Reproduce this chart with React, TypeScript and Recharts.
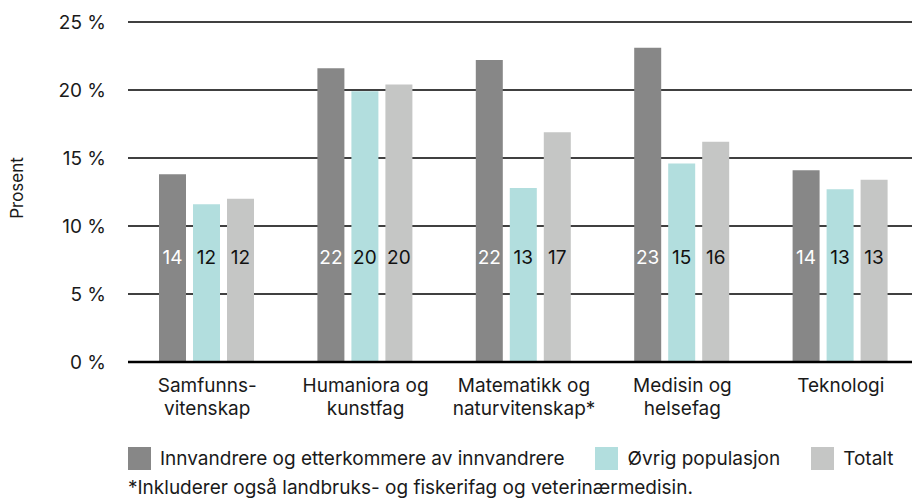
import React from 'react';
import { BarChart, Bar, XAxis, YAxis, CartesianGrid, LabelList } from 'recharts';

const categories = [
    ['Samfunns-', 'vitenskap'],
    ['Humaniora og', 'kunstfag'],
    ['Matematikk og', 'naturvitenskap*'],
    ['Medisin og', 'helsefag'],
    ['Teknologi'],
];
const innvandrere = [13.8, 21.6, 22.2, 23.1, 14.1];
const ovrig = [11.6, 19.9, 12.8, 14.6, 12.7];
const totalt = [12.0, 20.4, 16.9, 16.2, 13.4];
const yTicks = [0, 5, 10, 15, 20, 25];

const series = [
    { key: 'innvandrere', name: 'Innvandrere og etterkommere av innvandrere', color: '#878787', label: '#ffffff' },
    { key: 'ovrig', name: 'Øvrig populasjon', color: '#b2dede', label: '#111111' },
    { key: 'totalt', name: 'Totalt', color: '#c5c6c5', label: '#111111' },
];

const data = categories.map((c, i) => ({
    name: c.join(' '),
    innvandrere: innvandrere[i],
    ovrig: ovrig[i],
    totalt: totalt[i],
}));

const FONT = 'Inter, "Noto Sans", sans-serif';

const CategoryTick = ({ x, y, payload, index }: any) => {
    const lines = categories[index] || [payload.value];
    return (
        <text x={x} y={y} textAnchor="middle" fill="#1a1a1a" fontSize={19} fontFamily={FONT}>
            {lines.map((l, i) => (
                <tspan key={i} x={x} dy={i === 0 ? 30 : 23}>{l}</tspan>
            ))}
        </text>
    );
};

const makeLabel = (fill: string) => (props: any) => {
    const { x, y, width, height, value } = props;
    const bottom = y + height;
    return (
        <text
            x={x + width / 2}
            y={bottom - 105}
            textAnchor="middle"
            dominantBaseline="central"
            fill={fill}
            fontSize={19}
            fontFamily={FONT}
        >
            {Math.round(value)}
        </text>
    );
};

export default function App() {
    return (
        <div style={{ position: 'fixed', left: 0, top: 0, width: 912, height: 500, overflow: 'hidden', background: '#fff', fontFamily: FONT }}>
            <BarChart
                width={920}
                height={500}
                data={data}
                margin={{ top: 22, right: 0, bottom: 78, left: 0 }}
                barCategoryGap={31}
                barGap={7}
            >
                <CartesianGrid vertical={false} stroke="#000" strokeWidth={1.3} />
                <XAxis
                    dataKey="name"
                    height={60}
                    tickLine={false}
                    tickSize={0}
                    tickMargin={0}
                    axisLine={{ stroke: '#000', strokeWidth: 2.5 }}
                    tick={<CategoryTick />}
                    interval={0}
                />
                <YAxis
                    width={128}
                    domain={[0, 25]}
                    ticks={yTicks}
                    tickFormatter={(v: number) => `${v} %`}
                    axisLine={false}
                    tickLine={false}
                    tickMargin={16}
                    tick={{ fill: '#1a1a1a', fontSize: 19, fontFamily: FONT }}
                    label={{
                        content: () => (
                            <text x={17} y={188} transform="rotate(-90 17 188)" textAnchor="middle" dominantBaseline="central" fill="#1a1a1a" fontSize={17} fontFamily={FONT}>
                                Prosent
                            </text>
                        ),
                    }}
                />
                {series.map((s) => (
                    <Bar key={s.key} dataKey={s.key} name={s.name} fill={s.color} isAnimationActive={false}>
                        <LabelList dataKey={s.key} content={makeLabel(s.label)} />
                    </Bar>
                ))}
            </BarChart>
            <div style={{ position: 'absolute', left: 128, top: 447, display: 'flex', alignItems: 'center', fontSize: 19, color: '#1a1a1a' }}>
                {series.map((s, i) => (
                    <div key={s.key} style={{ display: 'flex', alignItems: 'center', marginRight: i < series.length - 1 ? 31 : 0 }}>
                        <span style={{ display: 'inline-block', width: 23, height: 23, background: s.color, marginRight: 9 }} />
                        <span>{s.name}</span>
                    </div>
                ))}
            </div>
            <div style={{ position: 'absolute', left: 128, top: 476, fontSize: 19, color: '#1a1a1a' }}>
                *Inkluderer også landbruks- og fiskerifag og veterinærmedisin.
            </div>
        </div>
    );
}
